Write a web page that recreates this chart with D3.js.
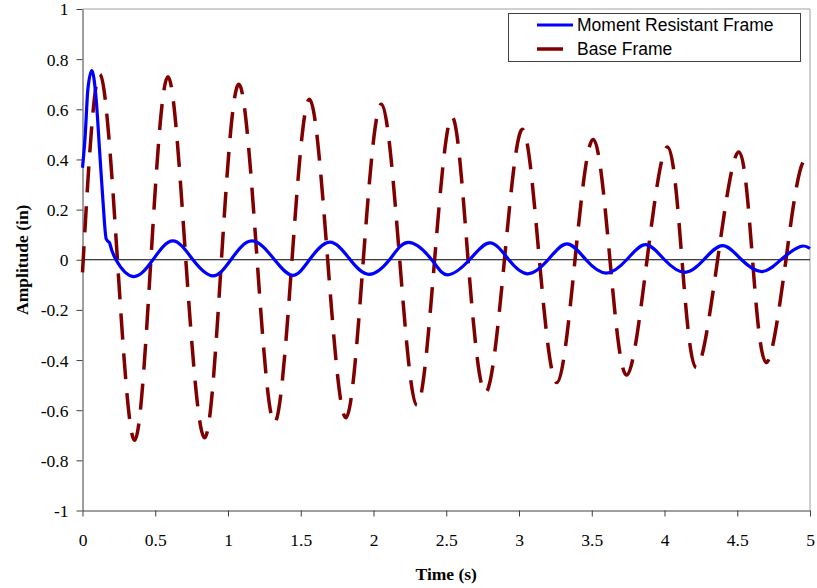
<!DOCTYPE html>
<html>
<head>
<meta charset="utf-8">
<script src="https://cdn.jsdelivr.net/npm/d3@7"></script>
<style>
  body { margin: 0; background: #fff; }
  .axis text { font-family: "Liberation Serif", "Times New Roman", serif; font-size: 17.5px; fill: #000; }
  .axis path, .axis line { stroke: #404040; }
  .title { font-family: "Liberation Serif", "Times New Roman", serif; font-size: 17.5px; font-weight: bold; }
  .legend text { font-family: "Liberation Sans", Arial, sans-serif; font-size: 17.5px; }
</style>
</head>
<body>
<svg id="chart" width="817" height="588"></svg>
<script>
const MRF_COLOR = "#0000ff";
const BASE_COLOR = "#800000";

// Moment Resistant Frame (time s, amplitude in)
const mrfTime = [0, 0.018, 0.037, 0.064, 0.094, 0.117, 0.14, 0.163, 0.186,
  0.23, 0.35, 0.484, 0.621, 0.759, 0.896, 1.02, 1.165, 1.32, 1.446, 1.56, 1.70,
  1.84, 1.97, 2.11, 2.24, 2.40, 2.51, 2.66, 2.80, 2.93, 3.06, 3.20, 3.33, 3.46,
  3.60, 3.74, 3.87, 4.00, 4.14, 4.27, 4.40, 4.53, 4.67, 4.80, 4.93, 5.0];
const mrfAmp = [0.367, 0.49, 0.68, 0.754, 0.64, 0.44, 0.24, 0.083, 0.068,
  0, -0.067, 0, 0.075, 0, -0.064, 0, 0.075, 0, -0.062, 0, 0.07,
  0, -0.058, 0, 0.069, 0, -0.06, 0, 0.067, 0, -0.056, 0, 0.063, 0,
  -0.053, 0, 0.06, 0, -0.05, 0, 0.056, 0, -0.047, 0, 0.052, 0.045];
const MRF_KINK = 8; // index where the initial pulse ends

// Base Frame
const baseTime = [0, 0.117, 0.24, 0.358, 0.47, 0.587, 0.71, 0.839, 0.955,
  1.075, 1.20, 1.32, 1.44, 1.56, 1.685, 1.81, 1.93, 2.054, 2.18, 2.30, 2.42,
  2.54, 2.65, 2.77, 2.90, 3.024, 3.14, 3.26, 3.385, 3.51, 3.625, 3.74, 3.88,
  4.02, 4.12, 4.22, 4.365, 4.51, 4.605, 4.70, 4.835, 4.97, 5.0];
const baseAmp = [-0.05, 0.74, 0, -0.72, 0, 0.73, 0, -0.71, 0,
  0.70, 0, -0.65, 0, 0.64, 0, -0.63, 0, 0.62, 0, -0.58, 0,
  0.57, 0, -0.53, 0, 0.52, 0, -0.49, 0, 0.48, 0, -0.46, 0,
  0.45, 0, -0.43, 0, 0.43, 0, -0.41, 0, 0.40, 0.375];

const xTicks = [0, 0.5, 1, 1.5, 2, 2.5, 3, 3.5, 4, 4.5, 5];
const yTicks = [-1, -0.8, -0.6, -0.4, -0.2, 0, 0.2, 0.4, 0.6, 0.8, 1];
const seriesNames = ["Moment Resistant Frame", "Base Frame"];

var svg = d3.select("#chart"),
  plotLeft = 82.5, plotRight = 810, plotTop = 9, plotBottom = 510.5;

var x = d3.scaleLinear().domain([0, 5]).range([plotLeft, plotRight]);
var y = d3.scaleLinear().domain([-1, 1]).range([plotBottom, plotTop]);

function lineWith(curve) {
  return d3.line().x(d => x(d[0])).y(d => y(d[1])).curve(curve);
}

// top and right border
svg.append("path")
  .attr("d", `M${plotLeft},${plotTop}H${plotRight}V${plotBottom}`)
  .attr("fill", "none")
  .attr("stroke", "#a0a0a0")
  .attr("stroke-width", 1);

// zero line
svg.append("line")
  .attr("x1", plotLeft).attr("x2", plotRight)
  .attr("y1", y(0)).attr("y2", y(0))
  .attr("stroke", "#000")
  .attr("stroke-width", 1.2);

svg.append("g")
  .attr("class", "axis")
  .attr("transform", "translate(" + plotLeft + ",0)")
  .call(d3.axisLeft(y).tickValues(yTicks).tickFormat(d => String(d))
    .tickSize(6).tickSizeOuter(0).tickPadding(8))
  .call(g => g.selectAll("text").attr("dy", "0.34em"));

svg.append("g")
  .attr("class", "axis")
  .attr("transform", "translate(0," + plotBottom + ")")
  .call(d3.axisBottom(x).tickValues(xTicks).tickFormat(d => String(d))
    .tickSize(6).tickSizeOuter(0).tickPadding(17));

// base frame, dashed; natural spline up to the last zero crossing,
// monotone for the last half cycle so the end does not overshoot
var baseData = baseTime.map((t, i) => [t, baseAmp[i]]);
var lastZero = baseData.length - 3;
var baseMain = lineWith(d3.curveNatural)(baseData.slice(0, lastZero + 1));
var baseEnd = lineWith(d3.curveMonotoneX)(baseData.slice(lastZero));
svg.append("path")
  .attr("fill", "none")
  .attr("stroke", BASE_COLOR)
  .attr("stroke-width", 3.5)
  .attr("stroke-dasharray", "26,14")
  .attr("d", baseMain + baseEnd.replace(/^M/, "L"));

// moment resistant frame: initial pulse then the small oscillation
var mrfData = mrfTime.map((t, i) => [t, mrfAmp[i]]);
var pulse = lineWith(d3.curveMonotoneX)(mrfData.slice(0, MRF_KINK + 1));
var tail = lineWith(d3.curveNatural)(mrfData.slice(MRF_KINK));
svg.append("path")
  .attr("fill", "none")
  .attr("stroke", MRF_COLOR)
  .attr("stroke-width", 3.2)
  .attr("stroke-linejoin", "round")
  .attr("d", pulse + tail.replace(/^M/, "L"));

// axis titles
svg.append("text")
  .attr("class", "title")
  .attr("transform", "translate(28," + y(0) + ") rotate(-90)")
  .attr("text-anchor", "middle")
  .text("Amplitude (in)");

svg.append("text")
  .attr("class", "title")
  .attr("x", (plotLeft + plotRight) / 2)
  .attr("y", 580)
  .attr("text-anchor", "middle")
  .text("Time (s)");

// legend
var legend = svg.append("g").attr("class", "legend");
legend.append("rect")
  .attr("x", 508.5).attr("y", 13.5)
  .attr("width", 292).attr("height", 48)
  .attr("fill", "#fff")
  .attr("stroke", "#404040")
  .attr("stroke-width", 1);

var item = legend.selectAll("g.item")
  .data(seriesNames)
  .enter()
  .append("g")
  .attr("class", "item")
  .attr("transform", (d, i) => "translate(0," + (25 + i * 24) + ")");

item.append("line")
  .attr("x1", 537)
  .attr("x2", (d, i) => i == 0 ? 573 : 563)
  .attr("stroke", (d, i) => i == 0 ? MRF_COLOR : BASE_COLOR)
  .attr("stroke-width", (d, i) => i == 0 ? 3.2 : 3.5);

item.append("text")
  .attr("x", 577)
  .attr("dy", "0.35em")
  .text(d => d);
</script>
</body>
</html>
